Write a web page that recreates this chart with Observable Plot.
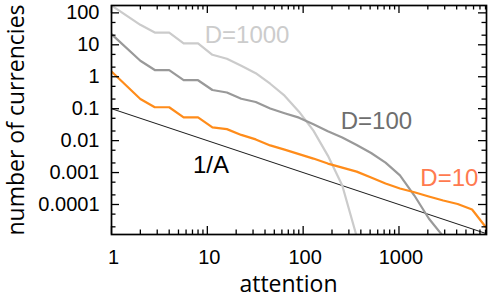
<!DOCTYPE html>
<html><head><meta charset="utf-8">
<script src="https://cdn.jsdelivr.net/npm/d3@7"></script>
<script src="https://cdn.jsdelivr.net/npm/@observablehq/plot@0.6"></script>
<style>body{margin:0;background:#fff}</style>
</head><body><div id="chart"></div>
<script>
// attention bins (x values)
const attention = [1, 2, 2.83, 4, 5.66, 8, 11.3, 16, 22.6, 32, 45.3, 64, 90.5, 128, 181, 256, 362, 512, 724, 1024, 1448, 2048, 2896, 4096, 5793, 8192];
// number of currencies per series
const seriesD10 = [1.46, 0.201, 0.111, 0.111, 0.0535, 0.0535, 0.026, 0.0229, 0.0151, 0.0109, 0.00708, 0.00523, 0.00379, 0.00274, 0.00191, 0.00143, 0.00107, 0.000698, 0.000453, 0.000316, 0.000242, 0.000178, 0.000133, 0.000104, 0.0000698, 0.0000184];
const seriesD100 = [21.6, 3.16, 1.62, 1.62, 0.778, 0.778, 0.384, 0.321, 0.205, 0.162, 0.1015, 0.0723, 0.0523, 0.0325, 0.0198, 0.0126, 0.0073, 0.0041, 0.00205, 0.00082, 0.000191, 0.0000365, 0.00001];
const seriesD1000 = [170, 42.2, 24.2, 24.2, 11.1, 11.1, 4.87, 3.65, 2.21, 1.29, 0.604, 0.255, 0.0806, 0.0205, 0.0034, 0.000392, 0.00001];
// reference line 1/A (two end points)
const refA = [1, 8192];
const refValues = [0.1, 0.0000122];
// ticks
const xTickValues = [1, 10, 100, 1000];
const yTickValues = [0.0001, 0.001, 0.01, 0.1, 1, 10, 100];
const xDomain = [1, 8192];
const yDomain = [0.0000115, 170];
// annotations
const labelNames = ["D=1000", "D=100", "D=10", "1/A"];
const labelA = [26, 581, 3357, 10.9];
const labelV = [11.8, 0.0232, 0.000392, 0.00095];
const labelColors = ["#cccccc", "#6e6e6e", "#ff7a4f", "#000000"];

const W = 490, H = 296, mL = 111, mR = 4, mT = 5, mB = 62;
const fw = W - mL - mR, fh = H - mT - mB;

const toRows = (vals) => vals.map((v, i) => ({a: attention[i], v}));
const refRows = refA.map((a, i) => ({a, v: refValues[i]}));
const labels = labelNames.map((t, i) => ({t, a: labelA[i], v: labelV[i], c: labelColors[i]}));

const xMinor = [];
for (let e = 0; e < 4; e++) for (let m = 2; m <= 9; m++) { const v = m * 10 ** e; if (v <= xDomain[1]) xMinor.push(v); }
const yMinor = [];
for (let e = -5; e <= 2; e++) for (const m of [2, 5]) { const v = m * 10 ** e; if (v >= yDomain[0] && v <= yDomain[1]) yMinor.push(v); }

const MAJ = 8, MIN = 4.5, TW = 1.3;

const chart = Plot.plot({
  width: W, height: H,
  marginLeft: mL, marginRight: mR, marginTop: mT, marginBottom: mB,
  style: {fontFamily: "'Liberation Sans', Arial, sans-serif", fontSize: "20px", background: "#fff", color: "#000"},
  x: {type: "log", domain: xDomain, nice: false},
  y: {type: "log", domain: yDomain, nice: false},
  marks: [
    Plot.line(refRows, {x: "a", y: "v", stroke: "#000", strokeWidth: 0.9, clip: true}),
    Plot.line(toRows(seriesD1000), {x: "a", y: "v", stroke: "#cbcbcb", strokeWidth: 2.2, clip: true}),
    Plot.line(toRows(seriesD100), {x: "a", y: "v", stroke: "#999999", strokeWidth: 2.2, clip: true}),
    Plot.line(toRows(seriesD10), {x: "a", y: "v", stroke: "#ff8c1a", strokeWidth: 2.2, clip: true}),
    // inward ticks
    Plot.tickX(xTickValues, {x: d => d, insetTop: fh - MAJ, stroke: "#000", strokeWidth: TW}),
    Plot.tickX(xMinor, {x: d => d, insetTop: fh - MIN, stroke: "#000", strokeWidth: TW}),
    Plot.tickX(xTickValues, {x: d => d, insetBottom: fh - MAJ, stroke: "#000", strokeWidth: TW}),
    Plot.tickX(xMinor, {x: d => d, insetBottom: fh - MIN, stroke: "#000", strokeWidth: TW}),
    Plot.tickY(yTickValues, {y: d => d, insetRight: fw - MAJ, stroke: "#000", strokeWidth: TW}),
    Plot.tickY(yMinor, {y: d => d, insetRight: fw - MIN, stroke: "#000", strokeWidth: TW}),
    Plot.tickY(yTickValues, {y: d => d, insetLeft: fw - MAJ, stroke: "#000", strokeWidth: TW}),
    Plot.tickY(yMinor, {y: d => d, insetLeft: fw - MIN, stroke: "#000", strokeWidth: TW}),
    Plot.frame({stroke: "#000", strokeWidth: 1.7}),
    Plot.axisX({ticks: xTickValues, tickSize: 0, tickPadding: 15, tickFormat: d => String(d), label: null, fontSize: 20, dx: 2}),
    Plot.axisY({ticks: yTickValues, tickSize: 0, tickPadding: 12, tickFormat: d => String(d), label: null, fontSize: 20}),
    Plot.text(labels, {x: "a", y: "v", text: "t", fill: "c", fontSize: 24, lineAnchor: "bottom", textAnchor: "middle"}),
    Plot.text(["attention"], {text: d => d, frameAnchor: "bottom", textAnchor: "middle", dy: 50.5, dx: -10.5, fontSize: 23, fontFamily: "'Open Sans', sans-serif", lineAnchor: "middle"}),
    Plot.text(["number of currencies"], {text: d => d, frameAnchor: "left", textAnchor: "middle", rotate: -90, dx: -94.5, fontSize: 23, fontFamily: "'Open Sans', sans-serif", lineAnchor: "middle"})
  ]
});
document.getElementById("chart").appendChild(chart);
</script>
</body></html>
